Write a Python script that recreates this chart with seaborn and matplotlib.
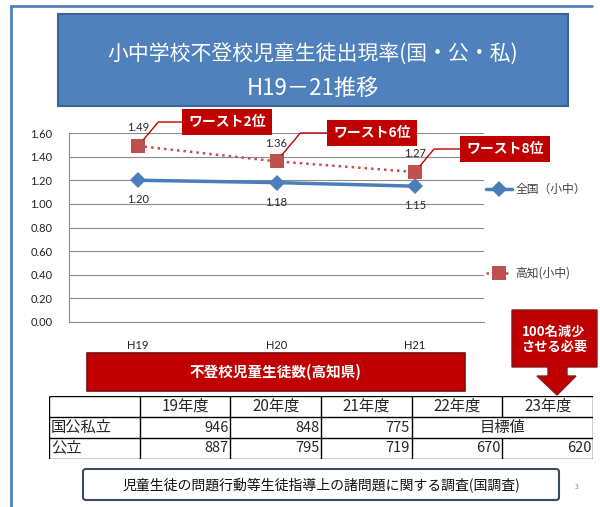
import numpy as np
import pandas as pd
import matplotlib
matplotlib.use('Agg')
import matplotlib.pyplot as plt
import seaborn as sns
from matplotlib.patches import Rectangle, FancyBboxPatch, Polygon
from matplotlib.lines import Line2D

# data
years = ['H19', 'H20', 'H21']
zenkoku = [1.20, 1.18, 1.15]
kochi = [1.49, 1.36, 1.27]
ranks = ['ワースト2位', 'ワースト6位', 'ワースト8位']

table_cols = ['19年度', '20年度', '21年度', '22年度', '23年度']
row_labels = ['国公私立', '公立']
all_counts = [946, 848, 775]
public_counts = [887, 795, 719, 670, 620]
target_label = '目標値'

title1 = '小中学校不登校児童生徒出現率(国・公・私)'
title2 = 'H19－21推移'
bar_title = '不登校児童生徒数(高知県)'
source = '児童生徒の問題行動等生徒指導上の諸問題に関する調査(国調査)'
goal_note = '100名減少\nさせる必要'

sns.set_style('white')
plt.rcParams['font.family'] = ['Noto Sans CJK JP', 'DejaVu Sans']

W, H = 600, 507
def fx(x):
    return x / W
def fy(y):
    return 1 - y / H

fig = plt.figure(figsize=(6, 5.07), dpi=100)

# outer slide frame (left + top)
fig.add_artist(Line2D([fx(11), fx(592)], [fy(6), fy(6)], color='#4f81bd', lw=2))
fig.add_artist(Line2D([fx(11), fx(11)], [fy(6), fy(507)], color='#4f81bd', lw=2))

# title box
fig.add_artist(Rectangle((fx(58), fy(106)), (568 - 58) / W, (106 - 14) / H,
                         fc='#4f81bd', ec='#3a6496', lw=1.5))
fig.text(fx(313), fy(54), title1, color='white', fontsize=15, ha='center', va='center')
fig.text(fx(313), fy(88), title2, color='white', fontsize=16, ha='center', va='center')

# line chart
ax = fig.add_axes([fx(69), fy(322), (484 - 69) / W, (322 - 133) / H])
df = pd.DataFrame({'year': years, 'zenkoku': zenkoku, 'kochi': kochi})
sns.lineplot(data=df, x='year', y='zenkoku', ax=ax, sort=False, color='#4a7ebb',
             linewidth=2.5, marker='D', markersize=8, markeredgewidth=0,
             label='全国（小中）')
sns.lineplot(data=df, x='year', y='kochi', ax=ax, sort=False, color='#c0504d',
             linewidth=1.8, linestyle=(0, (1, 1.6)), marker='s', markersize=10,
             markeredgewidth=0, label='高知(小中)')

ax.set_xlim(-0.5, 2.5)
ax.set_ylim(0, 1.6)
ax.set_yticks(np.arange(0, 1.61, 0.2))
ax.yaxis.set_major_formatter(matplotlib.ticker.FormatStrFormatter('%.2f'))
ax.grid(axis='y', color='#8c8c8c', lw=0.8)
ax.set_axisbelow(True)
ax.set_xlabel('')
ax.set_ylabel('')
for s in ['top', 'right']:
    ax.spines[s].set_visible(False)
ax.spines['left'].set_color('#8c8c8c')
ax.spines['bottom'].set_color('#8c8c8c')
ax.tick_params(axis='y', length=0, pad=12, labelsize=8, labelcolor='#222222')
ax.tick_params(axis='x', length=0, pad=13, labelsize=8, labelcolor='#222222')
for lab in ax.get_xticklabels() + ax.get_yticklabels():
    lab.set_family(['Lato', 'DejaVu Sans'])

for i, v in enumerate(zenkoku):
    ax.annotate(f'{v:.2f}', (i, v), xytext=(0, -14), textcoords='offset points',
                ha='center', va='center', fontsize=8, family=['Lato', 'DejaVu Sans'])
for i, v in enumerate(kochi):
    ax.annotate(f'{v:.2f}', (i, v), xytext=(0, 13), textcoords='offset points',
                ha='center', va='center', fontsize=8, family=['Lato', 'DejaVu Sans'])

# worst-rank callouts
box_pos = [(227, 122), (372, 133), (505, 149)]
for i, r in enumerate(ranks):
    cx, cy = box_pos[i]
    ax.annotate(r, xy=(i, kochi[i]), xycoords='data',
                xytext=(fx(cx), fy(cy)), textcoords='figure fraction',
                ha='center', va='center', color='white', fontsize=10, fontweight='bold',
                bbox=dict(boxstyle='square,pad=0.45', fc='#c00000', ec='none'),
                arrowprops=dict(arrowstyle='-', color='#c00000', lw=1,
                                connectionstyle='angle,angleA=0,angleB=50,rad=0',
                                shrinkA=0, shrinkB=6))

ax.legend(loc='upper left', bbox_to_anchor=(fx(486), fy(183)),
          bbox_transform=fig.transFigure, frameon=False, fontsize=8.5,
          labelspacing=6.0, handlelength=2.2, handletextpad=0.3,
          borderpad=0, borderaxespad=0, labelcolor='#404040')

# "100名減少" down-arrow callout
arrow = [(512, 310), (597, 310), (597, 367), (567, 367), (567, 376), (576, 376),
         (557, 395), (537, 376), (548, 376), (548, 367), (512, 367)]
fig.add_artist(Polygon([(fx(x), fy(y)) for x, y in arrow], closed=True,
                       fc='#c00000', ec='#8b1a1a', lw=1))
fig.text(fx(554), fy(339), goal_note, color='white', fontsize=9.5, fontweight='bold',
         ha='center', va='center', linespacing=1.1)

# red header bar
fig.add_artist(Rectangle((fx(87), fy(391)), (465 - 87) / W, (391 - 353) / H,
                         fc='#c00000', ec='#7a1010', lw=1.2))
fig.text(fx(276), fy(372), bar_title, color='white', fontsize=10.5, fontweight='bold',
         ha='center', va='center')

# counts table
tax = fig.add_axes([fx(49), fy(459), (593 - 49) / W, (459 - 396) / H])
tax.set_xlim(0, 6)
tax.set_ylim(3, 0)
tax.axis('off')
tax.hlines([0, 1, 2, 3], 0, 6, color='black', lw=1)
tax.vlines([0, 6], 0, 3, color='black', lw=1)
tax.vlines([1, 2, 3, 4], 0, 3, color='black', lw=1)
tax.vlines([5], 0, 1, color='black', lw=1)
tax.vlines([5], 2, 3, color='black', lw=1)
for j, c in enumerate(table_cols):
    tax.text(j + 1.5, 0.5, c, ha='center', va='center', fontsize=11)
for k, r in enumerate(row_labels):
    tax.text(0.02, k + 1.5, r, ha='left', va='center', fontsize=11)
for j, v in enumerate(all_counts):
    tax.text(j + 1.98, 1.5, str(v), ha='right', va='center', fontsize=10.5)
tax.text(5, 1.5, target_label, ha='center', va='center', fontsize=11)
for j, v in enumerate(public_counts):
    tax.text(j + 1.98, 2.5, str(v), ha='right', va='center', fontsize=10.5)

# source box
fig.add_artist(FancyBboxPatch((fx(83), fy(500)), (559 - 83) / W, (500 - 469) / H,
                              boxstyle='round,pad=0,rounding_size=0.005',
                              fc='white', ec='#3b4a66', lw=1.5))
fig.text(fx(321), fy(485), source, fontsize=10, ha='center', va='center', color='#111111')
fig.text(fx(577), fy(487), '3', fontsize=5, ha='center', va='center', color='#888888')

fig.savefig('out.png', dpi=100)
